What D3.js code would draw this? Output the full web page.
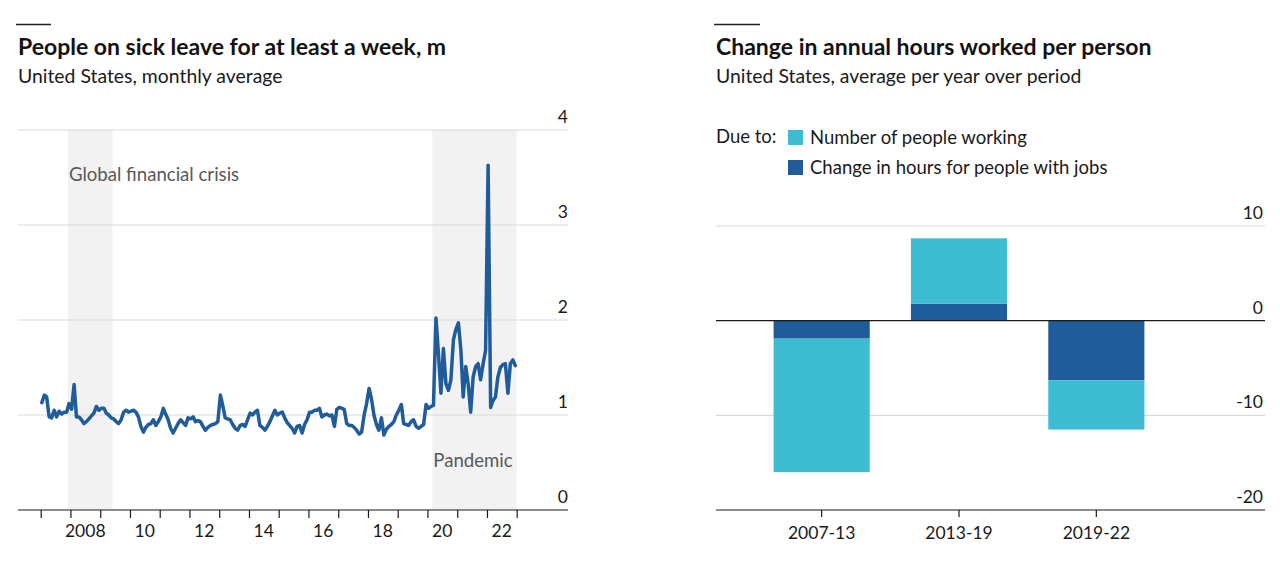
<!DOCTYPE html>
<html>
<head>
<meta charset="utf-8">
<script src="https://cdn.jsdelivr.net/npm/d3@7"></script>
<style>
  body { margin: 0; background: #fff; }
  svg { display: block; font-family: Lato, "Noto Sans", sans-serif; }
</style>
</head>
<body>
<svg id="chart" width="1280" height="582"></svg>
<script>
"use strict";

// ---- left panel: people on sick leave for at least a week, m (monthly, Jan 2007 - Dec 2022)
const startYear = 2007;
const sickLeave = [
  1.13, 1.21, 1.19, 0.98, 0.97, 1.05, 0.98, 1.04, 1.01, 1.03, 1.03, 1.12, // 2007
  1.06, 1.32, 0.98, 0.98, 0.95, 0.91, 0.93, 0.96, 0.99, 1.02, 1.09, 1.05, // 2008
  1.07, 1.07, 1.02, 1.00, 0.97, 0.96, 0.93, 0.91, 0.95, 1.03, 1.05, 1.03, // 2009
  1.04, 1.05, 1.03, 0.98, 0.88, 0.82, 0.87, 0.90, 0.91, 0.95, 0.89, 0.93, // 2010
  0.98, 1.07, 1.01, 0.95, 0.86, 0.81, 0.86, 0.91, 0.95, 0.92, 0.89, 0.97, // 2011
  0.96, 0.98, 0.93, 0.94, 0.93, 0.88, 0.84, 0.87, 0.89, 0.90, 0.91, 0.93, // 2012
  1.21, 1.09, 0.97, 0.96, 0.95, 0.90, 0.86, 0.84, 0.89, 0.90, 0.88, 0.95, // 2013
  1.02, 1.00, 1.03, 1.05, 0.89, 0.87, 0.84, 0.88, 0.93, 0.99, 1.05, 1.00, // 2014
  1.02, 1.03, 0.97, 0.92, 0.89, 0.86, 0.81, 0.88, 0.89, 0.81, 0.90, 0.95, // 2015
  1.03, 1.03, 1.05, 1.05, 1.07, 0.98, 1.00, 1.01, 0.99, 1.00, 0.88, 1.06, // 2016
  1.08, 1.07, 1.06, 0.91, 0.89, 0.89, 0.87, 0.84, 0.80, 0.82, 1.00, 1.12, // 2017
  1.28, 1.16, 1.00, 0.90, 0.84, 0.97, 0.79, 0.85, 0.88, 0.90, 0.93, 1.00, // 2018
  1.05, 1.11, 0.91, 0.90, 0.89, 0.93, 0.95, 0.88, 0.86, 0.88, 0.90, 1.11, // 2019
  1.07, 1.09, 1.10, 2.02, 1.65, 1.23, 1.70, 1.33, 1.26, 1.37, 1.79, 1.90, // 2020
  1.97, 1.68, 1.19, 1.51, 1.33, 1.03, 1.40, 1.51, 1.54, 1.37, 1.54, 1.68, // 2021
  3.63, 1.08, 1.15, 1.19, 1.40, 1.50, 1.53, 1.54, 1.23, 1.54, 1.58, 1.52  // 2022
];
const shadedPeriods = [
  { label: "Global financial crisis", from: [2007, 11], to: [2009, 5] },
  { label: "Pandemic", from: [2020, 2], to: [2023, 0] }
];
const leftTicks = [0, 1, 2, 3, 4];
const yearLabels = [2008, 2010, 2012, 2014, 2016, 2018, 2020, 2022];

// ---- right panel: change in annual hours worked per person
const periods = ["2007-13", "2013-19", "2019-22"];
const peopleWorking = [-14.1, 6.9, -5.2];
const hoursForWorkers = [-1.9, 1.8, -6.3];
const seriesNames = ["Number of people working", "Change in hours for people with jobs"];
const rightTicks = [-20, -10, 0, 10];

const lightBlue = "#3ebcd2";
const darkBlue = "#1f5c99";
const gridGrey = "#d9d9d9";

const svg = d3.select("#chart");

function header(x, width, title, subtitle) {
  svg.append("line")
    .attr("x1", x - 2).attr("x2", x + width).attr("y1", 24.5).attr("y2", 24.5)
    .attr("stroke", "#222").attr("stroke-width", 1.3);
  svg.append("text").attr("x", x).attr("y", 55)
    .attr("font-size", 23).attr("font-weight", 700).attr("fill", "#121212")
    .text(title);
  svg.append("text").attr("x", x).attr("y", 83)
    .attr("font-size", 19.4).attr("fill", "#1a1a1a")
    .text(subtitle);
}

header(18, 33, "People on sick leave for at least a week, m", "United States, monthly average");
header(716, 44, "Change in annual hours worked per person", "United States, average per year over period");

// ================= left panel
const monthly = sickLeave.map((v, i) => ({
  date: new Date(startYear, i, 15),
  value: v
}));

const x = d3.scaleTime()
  .domain([new Date(2007, 0, 1), new Date(2023, 0, 1)])
  .range([40.7, 516.7]);
const y = d3.scaleLinear().domain([0, 4]).range([510, 130]);

const left = svg.append("g");

left.selectAll("rect.shade")
  .data(shadedPeriods)
  .join("rect")
  .attr("class", "shade")
  .attr("x", d => x(new Date(d.from[0], d.from[1], 1)))
  .attr("width", d => x(new Date(d.to[0], d.to[1], 1)) - x(new Date(d.from[0], d.from[1], 1)))
  .attr("y", y(4))
  .attr("height", y(0) - y(4))
  .attr("fill", "#f2f2f2");

left.selectAll("line.grid")
  .data(leftTicks)
  .join("line")
  .attr("class", "grid")
  .attr("x1", 18).attr("x2", 568)
  .attr("y1", d => y(d)).attr("y2", d => y(d))
  .attr("stroke", d => d === 0 ? "#1a1a1a" : gridGrey)
  .attr("stroke-width", 1.2);

left.selectAll("text.ylab")
  .data(leftTicks)
  .join("text")
  .attr("class", "ylab")
  .attr("x", 568).attr("y", d => y(d) - 7)
  .attr("text-anchor", "end")
  .attr("font-size", 17.5).attr("fill", "#1a1a1a")
  .text(d => d);

// year ticks
const xAxis = d3.axisBottom(x)
  .tickValues(d3.timeYear.range(new Date(2007, 0, 1), new Date(2023, 0, 2)))
  .tickSize(8)
  .tickFormat("");
left.append("g")
  .attr("transform", `translate(0,${y(0)})`)
  .call(xAxis)
  .call(g => g.select(".domain").remove())
  .call(g => g.selectAll(".tick line").attr("stroke", "#1a1a1a").attr("stroke-width", 1.2));

left.selectAll("text.xlab")
  .data(yearLabels)
  .join("text")
  .attr("class", "xlab")
  .attr("x", d => x(new Date(d, 6, 1)))
  .attr("y", 537)
  .attr("text-anchor", "middle")
  .attr("font-size", 17.5).attr("fill", "#1a1a1a")
  .text(d => d === 2008 ? "2008" : String(d).slice(2));

left.selectAll("text.shadelab")
  .data(shadedPeriods)
  .join("text")
  .attr("class", "shadelab")
  .attr("x", d => x(new Date(d.from[0], d.from[1], 1)) + 1)
  .attr("y", (d, i) => i === 0 ? 181 : 467)
  .attr("font-size", 18.6).attr("fill", "#595959")
  .text(d => d.label);

const line = d3.line()
  .x(d => x(d.date))
  .y(d => y(d.value))
  .curve(d3.curveLinear);

left.append("path")
  .datum(monthly)
  .attr("d", line)
  .attr("fill", "none")
  .attr("stroke", darkBlue)
  .attr("stroke-width", 3.5)
  .attr("stroke-linejoin", "round")
  .attr("stroke-linecap", "round");

// ================= right panel
const rows = periods.map((p, i) => ({
  period: p,
  hours: hoursForWorkers[i],
  people: peopleWorking[i]
}));

const xb = d3.scaleBand()
  .domain(periods)
  .range([753, 1165])
  .paddingInner(0.3)
  .paddingOuter(0.15);
const yb = d3.scaleLinear().domain([-20, 10]).range([510, 226]);

const right = svg.append("g");

right.selectAll("line.grid")
  .data(rightTicks.filter(d => d !== 0 && d !== -20))
  .join("line")
  .attr("class", "grid")
  .attr("x1", 716).attr("x2", 1265)
  .attr("y1", d => yb(d)).attr("y2", d => yb(d))
  .attr("stroke", gridGrey).attr("stroke-width", 1.2);

const stacked = d3.stack()
  .keys(["hours", "people"])
  .offset(d3.stackOffsetDiverging)(rows);
const colour = { hours: darkBlue, people: lightBlue };

right.selectAll("g.series")
  .data(stacked)
  .join("g")
  .attr("class", "series")
  .attr("fill", d => colour[d.key])
  .selectAll("rect")
  .data(d => d)
  .join("rect")
  .attr("x", d => xb(d.data.period))
  .attr("width", xb.bandwidth())
  .attr("y", d => yb(Math.max(d[0], d[1])))
  .attr("height", d => Math.abs(yb(d[0]) - yb(d[1])));

right.selectAll("line.axis")
  .data([0, -20])
  .join("line")
  .attr("class", "axis")
  .attr("x1", 716).attr("x2", 1265)
  .attr("y1", d => yb(d)).attr("y2", d => yb(d))
  .attr("stroke", "#1a1a1a").attr("stroke-width", 1.2);

right.selectAll("text.ylab")
  .data(rightTicks)
  .join("text")
  .attr("class", "ylab")
  .attr("x", 1263).attr("y", d => yb(d) - 7)
  .attr("text-anchor", "end")
  .attr("font-size", 17.5).attr("fill", "#1a1a1a")
  .text(d => d);

const xbAxis = d3.axisBottom(xb).tickSize(7).tickPadding(10);
right.append("g")
  .attr("transform", `translate(0,${yb(-20)})`)
  .call(xbAxis)
  .call(g => g.select(".domain").remove())
  .call(g => g.selectAll(".tick line").attr("stroke", "#1a1a1a").attr("stroke-width", 1.2))
  .call(g => g.selectAll(".tick text")
    .attr("font-family", "Lato, 'Noto Sans', sans-serif")
    .attr("font-size", 17.5).attr("fill", "#1a1a1a"));

// legend
const legend = svg.append("g");
legend.append("text").attr("x", 716).attr("y", 143)
  .attr("font-size", 18.5).attr("fill", "#1a1a1a").text("Due to:");
const legendItems = legend.selectAll("g.item")
  .data([{ name: seriesNames[0], c: lightBlue }, { name: seriesNames[1], c: darkBlue }])
  .join("g")
  .attr("class", "item")
  .attr("transform", (d, i) => `translate(788,${130 + i * 30})`);
legendItems.append("rect").attr("width", 15).attr("height", 15).attr("fill", d => d.c);
legendItems.append("text").attr("x", 22).attr("y", 13.5)
  .attr("font-size", 18.5).attr("fill", "#1a1a1a").text(d => d.name);
</script>
</body>
</html>
